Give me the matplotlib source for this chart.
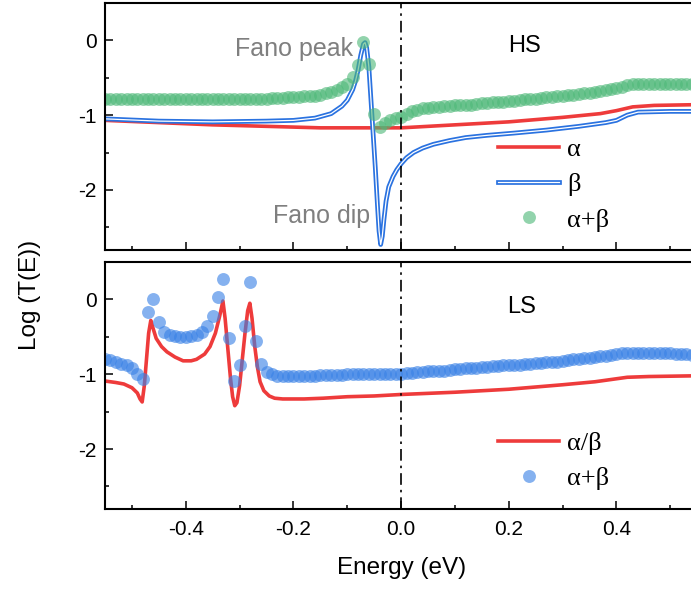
import matplotlib.pyplot as plt
import matplotlib.patheffects as pe
import numpy as np

plt.rcParams['font.family'] = ['Liberation Sans', 'DejaVu Sans']
plt.rcParams['axes.unicode_minus'] = False

# energy mesh of the transmission calculation (eV)
energy_mesh = np.round(np.arange(-55, 56) / 100, 2)

# HS state, total transmission alpha+beta on the mesh
hs_total = [
    -0.78, -0.78, -0.78, -0.78, -0.78, -0.79, -0.79, -0.79, -0.79, -0.79,
    -0.79, -0.79, -0.79, -0.79, -0.79, -0.79, -0.79, -0.79, -0.79, -0.79,
    -0.79, -0.79, -0.79, -0.79, -0.79, -0.78, -0.78, -0.78, -0.78, -0.78,
    -0.78, -0.77, -0.77, -0.77, -0.76, -0.76, -0.76, -0.75, -0.75, -0.74,
    -0.73, -0.71, -0.69, -0.67, -0.63, -0.58, -0.49, -0.33, -0.02, -0.31,
    -0.98, -1.16, -1.11, -1.07, -1.04, -1.02, -0.99, -0.95, -0.93, -0.91,
    -0.90, -0.89, -0.89, -0.88, -0.88, -0.87, -0.87, -0.86, -0.86, -0.85,
    -0.84, -0.84, -0.83, -0.83, -0.82, -0.81, -0.81, -0.80, -0.79, -0.78,
    -0.78, -0.77, -0.76, -0.76, -0.75, -0.74, -0.73, -0.73, -0.72, -0.71,
    -0.70, -0.69, -0.68, -0.66, -0.65, -0.64, -0.62, -0.60, -0.59, -0.58,
    -0.58, -0.58, -0.58, -0.58, -0.58, -0.58, -0.58, -0.58, -0.58, -0.58,
    -0.58,
]

# LS state, total transmission alpha+beta on the mesh
ls_total = [
    -0.79, -0.81, -0.84, -0.86, -0.88, -0.92, -0.99, -1.06, -0.17, 0.01,
    -0.30, -0.43, -0.47, -0.49, -0.50, -0.50, -0.49, -0.47, -0.43, -0.35,
    -0.22, 0.03, 0.28, -0.52, -1.09, -0.88, -0.35, 0.23, -0.56, -0.86,
    -0.97, -1.00, -1.02, -1.02, -1.02, -1.02, -1.02, -1.02, -1.02, -1.02,
    -1.01, -1.01, -1.01, -1.01, -1.01, -1.00, -1.00, -1.00, -1.00, -1.00,
    -0.99, -0.99, -0.99, -0.99, -0.99, -0.99, -0.98, -0.98, -0.97, -0.97,
    -0.96, -0.96, -0.95, -0.95, -0.94, -0.93, -0.93, -0.92, -0.92, -0.91,
    -0.90, -0.90, -0.89, -0.89, -0.88, -0.88, -0.87, -0.87, -0.86, -0.86,
    -0.85, -0.85, -0.84, -0.83, -0.83, -0.82, -0.81, -0.80, -0.79, -0.78,
    -0.78, -0.77, -0.76, -0.75, -0.74, -0.73, -0.72, -0.71, -0.71, -0.71,
    -0.71, -0.71, -0.72, -0.72, -0.72, -0.72, -0.73, -0.73, -0.73, -0.74,
    -0.74,
]

# HS spin-up channel
hs_alpha_e = [-0.55, -0.45, -0.35, -0.25, -0.15, -0.05, 0.0, 0.1, 0.2, 0.3,
              0.37, 0.40, 0.43, 0.47, 0.55]
hs_alpha = [-1.07, -1.10, -1.13, -1.15, -1.17, -1.17, -1.17, -1.13, -1.09, -1.03,
            -0.98, -0.94, -0.89, -0.87, -0.86]

# HS spin-down channel (Fano resonance near -0.07 eV)
hs_beta_e = [-0.55, -0.45, -0.35, -0.25, -0.20, -0.16, -0.13, -0.11, -0.10, -0.09,
             -0.085, -0.08, -0.075, -0.07, -0.067, -0.064, -0.06, -0.056, -0.052, -0.048,
             -0.044, -0.041, -0.038, -0.035, -0.032, -0.028, -0.023, -0.015, -0.008, 0.0,
             0.01, 0.023, 0.04, 0.06, 0.09, 0.12, 0.16, 0.21, 0.27, 0.33,
             0.38, 0.40, 0.42, 0.44, 0.50, 0.55]
hs_beta = [-1.05, -1.08, -1.09, -1.08, -1.07, -1.04, -0.98, -0.88, -0.80, -0.66,
           -0.55, -0.40, -0.20, -0.05, -0.03, -0.10, -0.35, -0.80, -1.25, -1.70,
           -2.20, -2.55, -2.73, -2.62, -2.40, -2.15, -1.96, -1.82, -1.73, -1.65,
           -1.57, -1.50, -1.44, -1.39, -1.34, -1.30, -1.27, -1.24, -1.20, -1.15,
           -1.10, -1.07, -1.00, -0.96, -0.95, -0.95]

# LS state, both spin channels identical
ls_spin_e = [-0.55, -0.53, -0.515, -0.50, -0.49, -0.485, -0.481, -0.477, -0.473, -0.469,
             -0.465, -0.461, -0.455, -0.445, -0.435, -0.42, -0.405, -0.39, -0.38, -0.365,
             -0.355, -0.345, -0.337, -0.331, -0.327, -0.322, -0.317, -0.313, -0.309, -0.305,
             -0.30, -0.295, -0.29, -0.285, -0.281, -0.277, -0.272, -0.267, -0.262, -0.255,
             -0.245, -0.235, -0.22, -0.18, -0.145, -0.10, -0.05, 0.0, 0.1, 0.2,
             0.3, 0.36, 0.39, 0.42, 0.46, 0.55]
ls_spin = [-1.09, -1.11, -1.13, -1.18, -1.25, -1.33, -1.37, -1.15, -0.80, -0.45,
           -0.28, -0.38, -0.52, -0.63, -0.70, -0.77, -0.82, -0.82, -0.80, -0.73,
           -0.63, -0.45, -0.22, -0.02, -0.25, -0.65, -1.05, -1.30, -1.42, -1.38,
           -1.15, -0.80, -0.45, -0.15, -0.05, -0.25, -0.62, -0.90, -1.10, -1.22,
           -1.29, -1.32, -1.33, -1.33, -1.32, -1.30, -1.29, -1.27, -1.24, -1.20,
           -1.14, -1.10, -1.07, -1.04, -1.03, -1.02]

red = '#ee3b3b'
blue = '#2a72e0'
green_dot = '#4fb979'
blue_dot = '#3a82e6'

fig = plt.figure(figsize=(6.91, 5.89), dpi=100)
ax_hs = fig.add_axes([0.152, 0.576, 0.857, 0.419])
ax_ls = fig.add_axes([0.152, 0.136, 0.857, 0.419])

# HS panel
ax_hs.plot(hs_alpha_e, hs_alpha, color=red, lw=2.6, label='α')
ax_hs.plot(hs_beta_e, hs_beta, color='white', lw=0.9, label='β',
           path_effects=[pe.Stroke(linewidth=3.4, foreground=blue), pe.Normal()])
ax_hs.plot(energy_mesh, hs_total, 'o', ls='none', ms=9.3, color=green_dot,
           alpha=0.62, mec='none', label='α+β')
ax_hs.text(-0.09, -0.21, 'Fano peak', color='#7f7f7f', fontsize=18, ha='right', va='baseline')
ax_hs.text(-0.057, -2.44, 'Fano dip', color='#7f7f7f', fontsize=18, ha='right', va='baseline')
ax_hs.text(0.198, -0.16, 'HS', fontsize=17, ha='left', va='baseline')

# LS panel
ax_ls.plot(ls_spin_e, ls_spin, color=red, lw=2.6, label='α/β')
ax_ls.plot(energy_mesh, ls_total, 'o', ls='none', ms=9.3, color=blue_dot,
           alpha=0.62, mec='none', label='α+β')
ax_ls.text(0.196, -0.18, 'LS', fontsize=17, ha='left', va='baseline')

legend_font = {'family': 'Liberation Serif', 'size': 19}
for ax, anchor in ((ax_hs, (0.664, 0.455)), (ax_ls, (0.664, 0.313))):
    ax.axvline(0, color='black', lw=1.2, ls=(0, (7, 3, 1.5, 3)))
    ax.set_xlim(-0.55, 0.55)
    ax.set_ylim(-2.8, 0.5)
    ax.set_yticks([0, -1, -2])
    ax.set_yticks([-0.5, -1.5, -2.5], minor=True)
    ax.set_xticks([-0.4, -0.2, 0.0, 0.2, 0.4])
    ax.set_xticks([-0.5, -0.3, -0.1, 0.1, 0.3, 0.5], minor=True)
    ax.tick_params(which='both', direction='in', top=False, right=False,
                   width=1.1, labelsize=15)
    ax.tick_params(which='major', length=6)
    ax.tick_params(which='minor', length=3.2)
    ax.tick_params(axis='y', pad=6)
    ax.tick_params(axis='x', pad=8)
    for side in ax.spines.values():
        side.set_linewidth(1.5)
    ax.legend(loc='upper left', bbox_to_anchor=anchor, frameon=False, prop=legend_font,
              handlelength=2.3, handletextpad=0.3, labelspacing=0.45,
              borderpad=0, borderaxespad=0, numpoints=1)

ax_hs.tick_params(axis='x', labelbottom=False)

ax_ls.set_xlabel('Energy (eV)', fontsize=17.5, labelpad=13)
fig.text(0.044, 0.5, 'Log (T(E))', fontsize=17.5, rotation=90, ha='center', va='center')

fig.savefig('out.png', dpi=100)
